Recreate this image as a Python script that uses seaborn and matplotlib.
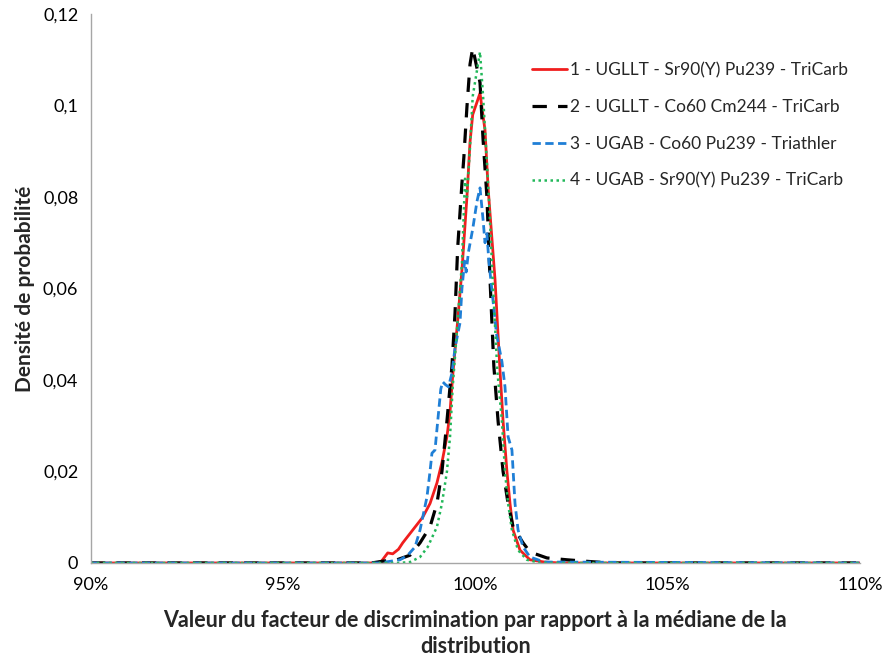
import numpy as np
import pandas as pd
import matplotlib
matplotlib.use("Agg")
import matplotlib.pyplot as plt
import seaborn as sns
from matplotlib.ticker import FuncFormatter

# ---- data (x in % of median, y = probability density) ----
labels = ["1 - UGLLT - Sr90(Y) Pu239 - TriCarb",
          "2 - UGLLT - Co60 Cm244 - TriCarb",
          "3 - UGAB - Co60 Pu239 - Triathler",
          "4 - UGAB - Sr90(Y) Pu239 - TriCarb"]

x1 = [90.0, 97.40, 97.55, 97.72, 97.85, 98.00, 98.11, 98.37, 98.63, 98.82, 99.00, 99.13, 99.26,
      99.34, 99.41, 99.54, 99.65, 99.78, 99.86, 99.93, 100.12, 100.25, 100.33, 100.51, 100.64,
      100.72, 100.82, 100.90, 100.98, 101.16, 101.42, 101.80, 102.20, 110.0]
y1 = [0, 0, 0.0003, 0.0022, 0.0020, 0.0030, 0.0044, 0.0072, 0.0100, 0.0130, 0.0175, 0.0220, 0.0276,
      0.0330, 0.0410, 0.0530, 0.0640, 0.0800, 0.0920, 0.0980, 0.1027, 0.0946, 0.0820, 0.0620, 0.0420,
      0.0310, 0.0200, 0.0130, 0.0072, 0.0028, 0.0007, 0.0002, 0, 0]

x2 = [90.0, 97.30, 97.60, 97.96, 98.30, 98.56, 98.82, 99.00, 99.13, 99.26, 99.34, 99.39, 99.47,
      99.54, 99.65, 99.70, 99.78, 99.86, 99.93, 100.12, 100.20, 100.30, 100.38, 100.48, 100.59,
      100.72, 100.85, 100.98, 101.24, 101.42, 101.86, 102.38, 103.00, 103.50, 110.0]
y2 = [0, 0, 0.0004, 0.0007, 0.0017, 0.0044, 0.0079, 0.0130, 0.0200, 0.0310, 0.0385, 0.0430, 0.0546,
      0.0690, 0.0830, 0.0887, 0.0997, 0.1090, 0.1126, 0.1050, 0.0925, 0.0800, 0.0620, 0.0430, 0.0310,
      0.0200, 0.0130, 0.0079, 0.0044, 0.0024, 0.0011, 0.0007, 0.0003, 0, 0]

x3 = [90.0, 97.50, 98.04, 98.24, 98.43, 98.56, 98.63, 98.74, 98.82, 98.87, 98.95, 99.02, 99.10,
      99.15, 99.22, 99.30, 99.39, 99.47, 99.54, 99.60, 99.65, 99.72, 99.76, 99.82, 99.93, 100.04,
      100.12, 100.20, 100.25, 100.30, 100.35, 100.45, 100.55, 100.69, 100.77, 100.85, 100.95,
      101.03, 101.11, 101.24, 101.42, 101.80, 110.0]
y3 = [0, 0, 0.0007, 0.0017, 0.0035, 0.0072, 0.0100, 0.0144, 0.0200, 0.0240, 0.0247, 0.0310, 0.0380,
      0.0396, 0.0390, 0.0385, 0.0415, 0.0470, 0.0500, 0.0525, 0.0600, 0.0660, 0.0636, 0.0680, 0.0730,
      0.0790, 0.0820, 0.0750, 0.0700, 0.0720, 0.0660, 0.0580, 0.0500, 0.0440, 0.0385, 0.0276, 0.0247,
      0.0130, 0.0072, 0.0035, 0.0013, 0.0002, 0]

x4 = [90.0, 98.00, 98.30, 98.56, 98.76, 99.00, 99.13, 99.26, 99.34, 99.41, 99.54, 99.65, 99.73,
      99.78, 99.86, 99.93, 100.12, 100.20, 100.30, 100.35, 100.45, 100.57, 100.69, 100.77,
      100.85, 100.95, 101.11, 101.34, 101.70, 110.0]
y4 = [0, 0, 0.0002, 0.0013, 0.0035, 0.0079, 0.0130, 0.0200, 0.0276, 0.0385, 0.0530, 0.0656, 0.0840,
      0.0800, 0.0910, 0.1020, 0.1117, 0.1020, 0.0874, 0.0800, 0.0620, 0.0420, 0.0310, 0.0200,
      0.0130, 0.0072, 0.0028, 0.0007, 0, 0]

xs = [x1, x2, x3, x4]
ys = [y1, y2, y3, y4]

x_ticks = [90, 95, 100, 105, 110]
y_ticks = [0, 0.02, 0.04, 0.06, 0.08, 0.10, 0.12]

# ---- styles ----
colors = ["#f01e1e", "#000000", "#1f7fd6", "#22b85a"]
styles = [dict(linestyle="-", linewidth=2.0),
          dict(linestyle=(0, (4.5, 3.5)), linewidth=2.3),
          dict(linestyle=(0, (3, 1.6)), linewidth=2.0),
          dict(linestyle=(0, (1, 1.4)), linewidth=1.8)]

sns.set_style("white")
plt.rcParams['font.family'] = ['Lato', 'DejaVu Sans']

fig = plt.figure(figsize=(8.82, 6.59), dpi=100)
ax = fig.add_axes([0.103, 0.1457, 0.872, 0.833])

for lab, xv, yv, c, st in zip(labels, xs, ys, colors, styles):
    df = pd.DataFrame({"x": xv, "y": yv})
    sns.lineplot(data=df, x="x", y="y", ax=ax, color=c, label=lab, sort=False,
                 estimator=None, **st)

ax.set_xlim(90, 110)
ax.set_ylim(0, 0.12)
ax.set_xticks(x_ticks)
ax.set_yticks(y_ticks)
ax.xaxis.set_major_formatter(FuncFormatter(lambda v, p: f"{v:.0f}%"))

def yfmt(v, p):
    if abs(v) < 1e-12:
        return "0"
    s = f"{v:.2f}".rstrip("0")
    return s.replace(".", ",")
ax.yaxis.set_major_formatter(FuncFormatter(yfmt))

for s in ["top", "right"]:
    ax.spines[s].set_visible(False)
for s in ["left", "bottom"]:
    ax.spines[s].set_color("#a6a6a6")
    ax.spines[s].set_linewidth(1.0)
ax.tick_params(axis="both", direction="out", length=5, width=1, color="#a6a6a6",
               labelsize=13, labelcolor="#000000")
ax.tick_params(axis="x", pad=5)
ax.tick_params(axis="y", pad=4)

ax.set_ylabel("Densité de probabilité", fontsize=15, fontweight="bold", labelpad=6)
ax.set_xlabel("Valeur du facteur de discrimination par rapport à la médiane de la\ndistribution",
              fontsize=15.5, fontweight="bold", labelpad=12, linespacing=1.32)

leg = ax.legend(loc="upper left", bbox_to_anchor=(0.565, 0.925), frameon=False,
                fontsize=12.5, handlelength=2.0, handletextpad=0.15, labelspacing=1.2,
                borderaxespad=0)

fig.savefig("out.png", dpi=100)
